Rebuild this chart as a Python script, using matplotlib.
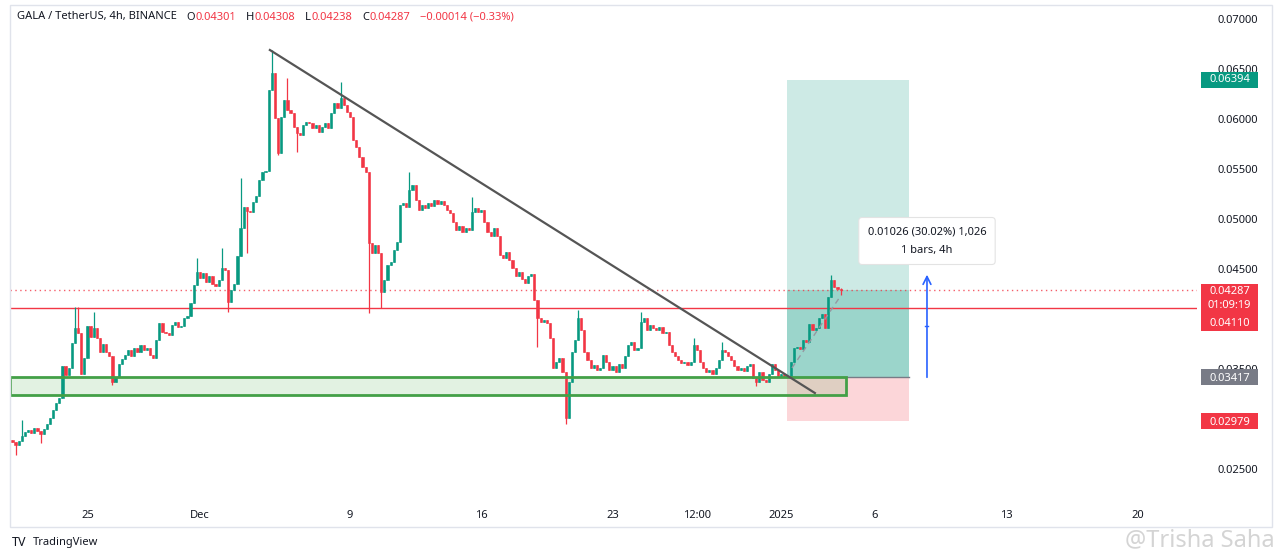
"""
GALA / TetherUS 4h chart (TradingView style) with trendline, support zone and long position.
"""

import numpy as np
import pandas as pd
import matplotlib
matplotlib.use('Agg')
import matplotlib.pyplot as plt
import matplotlib.dates as mdates
import matplotlib.transforms as mtransforms
from matplotlib.patches import Rectangle

plt.rcParams['font.family'] = ['Noto Sans', 'DejaVu Sans']

# ── colours ───────────────────────────────────────────────────────────────────
UP     = '#089981'
DOWN   = '#f23645'
TEXT   = '#131722'
BORDER = '#e0e3eb'
BLUE   = '#2962ff'

# ── data (4h closes) ──────────────────────────────────────────────────────────
START = '2024-11-21 00:00'
FIRST_OPEN = 0.0279
CLOSES = [
    0.0277, 0.0274, 0.0278, 0.0283, 0.0287, 0.0289, 0.0286, 0.0291, 0.0288, 0.0285,
    0.0290, 0.0295, 0.0301, 0.0309, 0.0316, 0.0321, 0.0353, 0.0344, 0.0351, 0.0376,
    0.0391, 0.0386, 0.0345, 0.0361, 0.0393, 0.0382, 0.0391, 0.0381, 0.0367, 0.0375,
    0.0367, 0.0363, 0.0337, 0.0342, 0.0355, 0.0360, 0.0364, 0.0369, 0.0363, 0.0371,
    0.0367, 0.0374, 0.0369, 0.0371, 0.0364, 0.0361, 0.0379, 0.0396, 0.0387, 0.0386,
    0.0384, 0.0394, 0.0397, 0.0392, 0.0393, 0.0401, 0.0403, 0.0416, 0.0434, 0.0447,
    0.0441, 0.0446, 0.0437, 0.0443, 0.0435, 0.0433, 0.0439, 0.0451, 0.0449, 0.0417,
    0.0429, 0.0435, 0.0463, 0.0491, 0.0512, 0.0508, 0.0507, 0.0517, 0.0523, 0.0539,
    0.0547, 0.0548, 0.0629, 0.0646, 0.0601, 0.0566, 0.0602, 0.0619, 0.0609, 0.0606,
    0.0592, 0.0586, 0.0584, 0.0594, 0.0597, 0.0596, 0.0591, 0.0594, 0.0587, 0.0592,
    0.0596, 0.0591, 0.0606, 0.0616, 0.0611, 0.0621, 0.0614, 0.0607, 0.0602, 0.0579,
    0.0572, 0.0562, 0.0552, 0.0547, 0.0476, 0.0466, 0.0474, 0.0466, 0.0427, 0.0439,
    0.0454, 0.0457, 0.0469, 0.0477, 0.0514, 0.0516, 0.0512, 0.0529, 0.0534, 0.0519,
    0.0509, 0.0514, 0.0511, 0.0516, 0.0513, 0.0519, 0.0515, 0.0518, 0.0514, 0.0509,
    0.0506, 0.0497, 0.0489, 0.0493, 0.0487, 0.0491, 0.0489, 0.0507, 0.0511, 0.0507,
    0.0509, 0.0497, 0.0487, 0.0483, 0.0491, 0.0483, 0.0464, 0.0461, 0.0467, 0.0459,
    0.0451, 0.0443, 0.0447, 0.0440, 0.0436, 0.0443, 0.0445, 0.0419, 0.0401, 0.0397,
    0.0399, 0.0396, 0.0381, 0.0351, 0.0357, 0.0361, 0.0347, 0.0301, 0.0337, 0.0367,
    0.0379, 0.0401, 0.0389, 0.0367, 0.0359, 0.0351, 0.0354, 0.0349, 0.0351, 0.0364,
    0.0357, 0.0349, 0.0353, 0.0347, 0.0355, 0.0351, 0.0363, 0.0374, 0.0377, 0.0369,
    0.0371, 0.0397, 0.0401, 0.0389, 0.0394, 0.0391, 0.0389, 0.0392, 0.0386, 0.0387,
    0.0374, 0.0367, 0.0363, 0.0359, 0.0356, 0.0357, 0.0354, 0.0357, 0.0374, 0.0369,
    0.0357, 0.0351, 0.0347, 0.0349, 0.0345, 0.0351, 0.0359, 0.0369, 0.0367, 0.0363,
    0.0359, 0.0353, 0.0349, 0.0351, 0.0348, 0.0353, 0.0355, 0.0341, 0.0337, 0.0347,
    0.0339, 0.0337, 0.0345, 0.0355, 0.0349, 0.0343, 0.0345, 0.0343, 0.03417, 0.0357,
    0.0371, 0.0372, 0.0370, 0.0379, 0.0377, 0.0395, 0.0389, 0.0391, 0.0401, 0.0405,
    0.0391, 0.0422, 0.0439, 0.0432, 0.04301, 0.04287,
]
# long wicks (bar index -> price)
HIGH_SPIKES = {3: 0.0299, 20: 0.0412, 21: 0.0412, 26: 0.0407, 59: 0.0461, 67: 0.0471,
               73: 0.0541, 83: 0.0669, 88: 0.0641, 105: 0.0637, 127: 0.0547,
               147: 0.0522, 181: 0.0409, 201: 0.0407, 218: 0.0381, 227: 0.0377,
               262: 0.0444, 265: 0.04308}
LOW_SPIKES = {1: 0.0264, 9: 0.0276, 32: 0.0334, 69: 0.0407, 75: 0.0466, 85: 0.0564,
              91: 0.0567, 114: 0.0406, 118: 0.0411, 168: 0.0372, 177: 0.0295,
              238: 0.0333, 265: 0.04238}

# levels / drawings
RESIST    = 0.04110
LAST      = 0.04287
ENTRY     = 0.03417
TARGET    = 0.06394
STOP      = 0.02979
ZONE      = (0.0324, 0.03417)
ZONE_END  = '2025-01-04 11:00'
TREND     = (('2024-12-04 17:30', 0.0669), ('2025-01-02 19:00', 0.0326))
PROJ      = (('2025-01-01 13:40', 0.0351), ('2025-01-04 03:00', 0.0422))
POS_SPAN  = ('2025-01-01 07:30', '2025-01-07 19:30')
MEASURE_X = '2025-01-08 18:30'
MEASURE   = 0.01026

# 0.030 / 0.040 sit under the price tags in the reference, so they are left out
PRICE_TICKS = [0.025, 0.035, 0.045, 0.050, 0.055, 0.060, 0.065, 0.070]
TIME_TICKS  = ['2024-11-25', '2024-12-01', '2024-12-09', '2024-12-16', '2024-12-23',
               '2024-12-27 12:00', '2025-01-01', '2025-01-06', '2025-01-13', '2025-01-20']
TIME_LABELS = ['25', 'Dec', '9', '16', '23', '12:00', '2025', '6', '13', '20']

OHLC_LABELS = [('O', '0.04301'), ('H', '0.04308'), ('L', '0.04238'), ('C', '0.04287')]
CHANGE_LABEL = '\u22120.00014 (\u22120.33%)'


def d(s):
    return mdates.date2num(pd.Timestamp(s))


W, H = 1280, 560
fig = plt.figure(figsize=(W / 100, H / 100), dpi=100)
ax = fig.add_axes([10 / W, 63 / H, 1187 / W, 492 / H])

dates = pd.date_range(START, periods=len(CLOSES), freq='4h')
x = mdates.date2num(dates)
close = np.array(CLOSES)
open_ = np.r_[FIRST_OPEN, close[:-1]]
open_[-1] = 0.04301
high = np.maximum(open_, close)
low = np.minimum(open_, close)
for i, v in HIGH_SPIKES.items():
    high[i] = max(high[i], v)
for i, v in LOW_SPIKES.items():
    low[i] = min(low[i], v)

colors = np.where(close >= open_, UP, DOWN)
bw = 0.7 * 4 / 24
ax.vlines(x, low, high, colors=colors, lw=0.9, zorder=3)
ax.bar(x, close - open_, bottom=open_, width=bw, color=colors,
       edgecolor=colors, linewidth=0.4, zorder=4)

xmin, xmax = d('2024-12-01') - 10.13, d('2024-12-01') + 53.17
ax.set_xlim(xmin, xmax)
ax.set_ylim(0.0222, 0.0714)

# support zone
ax.add_patch(Rectangle((xmin, ZONE[0]), d(ZONE_END) - xmin, ZONE[1] - ZONE[0],
                       facecolor='#4caf50', alpha=0.16, edgecolor='none', zorder=1))
ax.add_patch(Rectangle((xmin, ZONE[0]), d(ZONE_END) - xmin, ZONE[1] - ZONE[0],
                       facecolor='none', edgecolor='#43a047', lw=2, zorder=5))

# long position box
x0, x1 = d(POS_SPAN[0]), d(POS_SPAN[1])
ax.add_patch(Rectangle((x0, ENTRY), x1 - x0, TARGET - ENTRY,
                       facecolor=UP, alpha=0.2, edgecolor='none', zorder=0.5))
ax.add_patch(Rectangle((x0, ENTRY), x1 - x0, LAST - ENTRY,
                       facecolor=UP, alpha=0.25, edgecolor='none', zorder=0.6))
ax.add_patch(Rectangle((x0, STOP), x1 - x0, ENTRY - STOP,
                       facecolor=DOWN, alpha=0.2, edgecolor='none', zorder=0.5))
ax.plot([x0, x1], [ENTRY, ENTRY], color='#787b86', lw=1, zorder=2)

# horizontal levels
ax.axhline(RESIST, color=DOWN, lw=1, zorder=2)
ax.axhline(LAST, color=DOWN, lw=1, ls=(0, (1, 2.5)), alpha=0.8, zorder=2)

# trendline + projection
ax.plot([d(TREND[0][0]), d(TREND[1][0])], [TREND[0][1], TREND[1][1]],
        color='#555555', lw=1.6, zorder=6)
ax.plot([d(PROJ[0][0]), d(PROJ[1][0])], [PROJ[0][1], PROJ[1][1]],
        color='#9598a1', lw=1, ls=(0, (4, 3)), zorder=6)

# measure arrow
mx = d(MEASURE_X)
ax.annotate('', xy=(mx, ENTRY + MEASURE), xytext=(mx, ENTRY),
            arrowprops=dict(arrowstyle='->', color=BLUE, lw=1.2,
                            mutation_scale=14, shrinkA=0, shrinkB=0), zorder=7)
ax.plot([mx - 0.08, mx + 0.08], [ENTRY + MEASURE / 2] * 2, color=BLUE, lw=1, zorder=7)
ax.text(mx, 0.0478, f'{MEASURE:.5f} (30.02%) 1,026\n1 bars, 4h', ha='center', va='center',
        fontsize=8, color=TEXT, linespacing=1.9, zorder=8,
        bbox=dict(boxstyle='round,pad=0.8,rounding_size=0.3', fc='white', ec='#e3e3e3', lw=0.8))

# axes styling
for s in ax.spines.values():
    s.set_visible(False)
ax.yaxis.tick_right()
ax.set_yticks(PRICE_TICKS)
ax.set_yticklabels([f'{v:.5f}' for v in PRICE_TICKS])
ax.tick_params(axis='y', length=0, pad=15, labelsize=8, labelcolor=TEXT)
ax.set_xticks([d(t) for t in TIME_TICKS])
ax.set_xticklabels(TIME_LABELS)
ax.tick_params(axis='x', length=0, pad=9, labelsize=8, labelcolor=TEXT)
for lbl in ax.get_xticklabels():
    if lbl.get_text() == '2025':
        lbl.set_fontweight('bold')

# price tags on the scale
tr = mtransforms.blended_transform_factory(ax.transAxes, ax.transData)
tag_x0, tag_x1 = (1201 - 10) / 1187, (1258 - 10) / 1187
tag_xc = (tag_x0 + tag_x1) / 2


def tag(lo, hi, color):
    ax.add_patch(Rectangle((tag_x0, lo), tag_x1 - tag_x0, hi - lo, transform=tr,
                           facecolor=color, edgecolor='none', clip_on=False, zorder=9))


def tag_text(y, s):
    ax.text(tag_xc, y, s, transform=tr, ha='center', va='center', fontsize=8,
            color='white', clip_on=False, zorder=10)


tag(TARGET - 0.0008, TARGET + 0.0008, UP)
tag_text(TARGET, f'{TARGET:.5f}')
tag(0.0388, 0.0435, DOWN)
tag_text(0.04280, f'{LAST:.5f}')
tag_text(0.04140, '01:09:19')
tag_text(0.03960, f'{RESIST:.5f}')
tag(ENTRY - 0.0008, ENTRY + 0.0008, '#787b86')
tag_text(ENTRY - 0.0001, f'{ENTRY:.5f}')
tag(STOP - 0.0008, STOP + 0.0008, DOWN)
tag_text(STOP - 0.0001, f'{STOP:.5f}')

# widget border
fig.add_artist(Rectangle((10 / W, 33 / H), 1262 / W, 522 / H, transform=fig.transFigure,
                         fill=False, edgecolor=BORDER, lw=1))


def fpx(px, py):
    return px / W, 1 - py / H


# header: chain each piece after the previous one
prev = fig.text(*fpx(17, 17), 'GALA / TetherUS, 4h, BINANCE', fontsize=8, color=TEXT,
                va='center')


def after(prev_txt, s, color, gap):
    return ax.annotate(s, xy=(1, 0.5), xycoords=prev_txt, xytext=(gap, 0),
                       textcoords='offset points', fontsize=8, color=color,
                       va='center', ha='left', annotation_clip=False)


for letter, val in OHLC_LABELS:
    prev = after(prev, letter, TEXT, 7)
    prev = after(prev, val, DOWN, 0.3)
after(prev, CHANGE_LABEL, DOWN, 7)

# footer
fig.text(*fpx(12, 543), 'TV', fontsize=9, fontweight='heavy', color=TEXT, va='center')
fig.text(*fpx(33, 543), 'TradingView', fontsize=8, color=TEXT, va='center')
fig.text(*fpx(1275, 540), '@Trisha Saha', fontsize=17, color='#d4d4d4', va='center', ha='right')

fig.savefig('out.png', dpi=100, facecolor='white')
